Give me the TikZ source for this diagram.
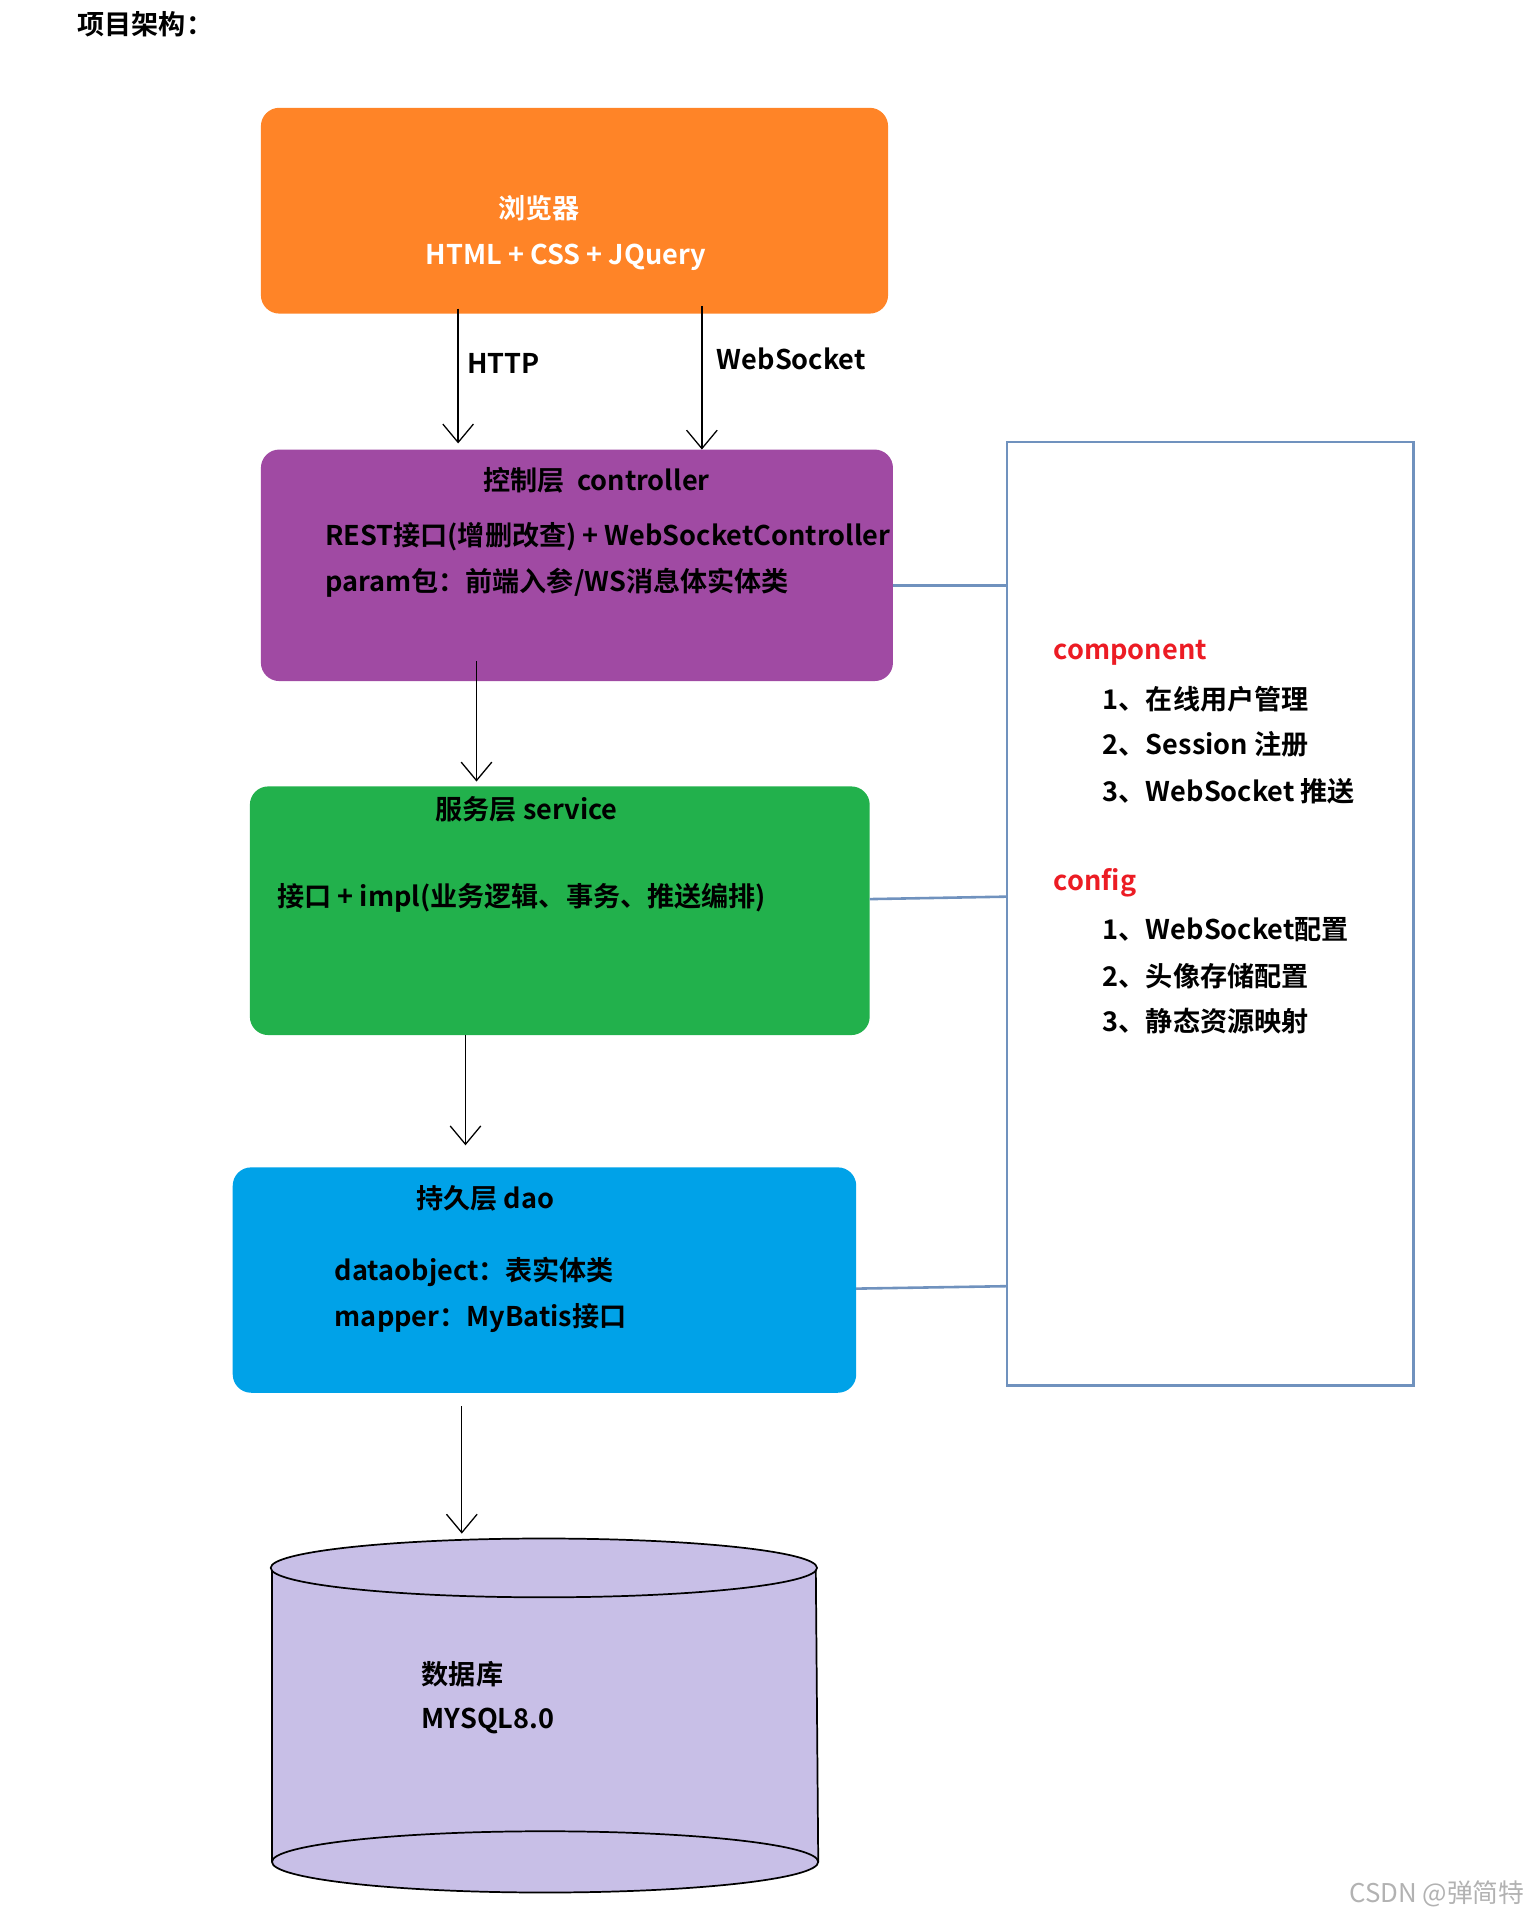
\documentclass[tikz,border=0pt]{standalone}
\usepackage{fontspec}
\setmainfont{Noto Sans CJK SC}[BoldFont={* Bold}]
\usetikzlibrary{arrows.meta,positioning}
\definecolor{browserColor}{HTML}{FF8427}
\definecolor{ctrlColor}{HTML}{A04AA3}
\definecolor{svcColor}{HTML}{22B14C}
\definecolor{daoColor}{HTML}{00A2E8}
\definecolor{dbColor}{HTML}{C8BFE7}
\definecolor{frameColor}{HTML}{7092BE}
\definecolor{kwColor}{HTML}{EC1C24}
\tikzset{
	layer/.style={rounded corners=3mm, draw=none},
	txt/.style={font=\bfseries\fontsize{12.6}{14}\selectfont, inner sep=0},
	flow/.style={-{Straight Barb[length=3mm,width=5mm]}, semithick},
	link/.style={draw=frameColor, line width=1.2pt}
}
\begin{document}
\begin{tikzpicture}[x=0.02cm,y=-0.02cm]
	\useasboundingbox (0,0) rectangle (1250,1565);
	\node[txt, anchor=west] (title) at (63,20) {项目架构：};
	% layers
	\fill[browserColor, layer] (213,88) rectangle (725,256);
	\fill[ctrlColor, layer] (213,367) rectangle (729,556);
	\fill[svcColor, layer] (204,642) rectangle (710,845);
	\fill[daoColor, layer] (190,953) rectangle (699,1137);
	\coordinate (b1) at (374,252); \coordinate (c1) at (374,362);
	\coordinate (b2) at (573,250); \coordinate (c2) at (573,367);
	\coordinate (c3) at (389,540); \coordinate (s3) at (389,638);
	\coordinate (s4) at (380,845); \coordinate (d4) at (380,935);
	\coordinate (d5) at (377,1148); \coordinate (m5) at (377,1252);
	% texts
	\node[txt, white] (browser) at (440,170) {浏览器};
	\node[txt, white] (front) at (462,210) {HTML + CSS + JQuery};
	\node[txt] (ctrl) at (487,392) {控制层\ \ controller};
	\node[txt, anchor=west] (rest) at (265,438) {REST接口(增删改查) + WebSocketController};
	\node[txt, anchor=west] (param) at (265,476) {param包：前端入参/WS消息体实体类};
	\node[txt] (svc) at (430,661) {服务层 service};
	\node[txt, anchor=west] (impl) at (226,733) {接口 + impl(业务逻辑、事务、推送编排)};
	\node[txt] (dao) at (396,978) {持久层 dao};
	\node[txt, anchor=west] (dobj) at (273,1038) {dataobject：表实体类};
	\node[txt, anchor=west] (mapper) at (273,1076) {mapper：MyBatis接口};
	% arrows
	\draw[flow] (b1) -- (c1);
	\draw[flow] (b2) -- (c2);
	\node[txt] (http) at (411,297) {HTTP};
	\node[txt] (ws) at (646,293) {WebSocket};
	\draw[flow] (c3) -- (s3);
	\draw[flow] (s4) -- (d4);
	\draw[flow] (d5) -- (m5);
	% database
	\draw[fill=dbColor, thick] (222,1280) -- (222,1520) arc[start angle=180,end angle=360,x radius=223,y radius=-25] -- (666,1280);
	\draw[fill=dbColor, thick] (444,1280) ellipse[x radius=223, y radius=24];
	\draw[thick] (222,1520) arc[start angle=180,end angle=0,x radius=223,y radius=-25];
	\node[txt, anchor=west] (db) at (344,1367) {数据库};
	\node[txt, anchor=west] (mysql) at (344,1405) {MYSQL8.0};
	% shared side box
	\draw[link] (822,361) rectangle (1154,1131);
	\draw[link] (729,478) -- (822,478);
	\draw[link] (710,734) -- (822,732);
	\draw[link] (699,1052) -- (822,1050);
	\node[txt, kwColor, anchor=west] (comp) at (860,533) {component};
	\node[txt, anchor=west] (comp1) at (900,571) {1、在线用户管理};
	\node[txt, anchor=west] (comp2) at (900,608) {2、Session 注册};
	\node[txt, anchor=west] (comp3) at (900,646) {3、WebSocket 推送};
	\node[txt, kwColor, anchor=west] (conf) at (860,721) {config};
	\node[txt, anchor=west] (conf1) at (900,759) {1、WebSocket配置};
	\node[txt, anchor=west] (conf2) at (900,797) {2、头像存储配置};
	\node[txt, anchor=west] (conf3) at (900,834) {3、静态资源映射};
	\node[font=\fontsize{12}{14}\selectfont, gray!60, anchor=east, inner sep=0] (mark) at (1245,1546) {CSDN @弹简特};
\end{tikzpicture}
\end{document}
